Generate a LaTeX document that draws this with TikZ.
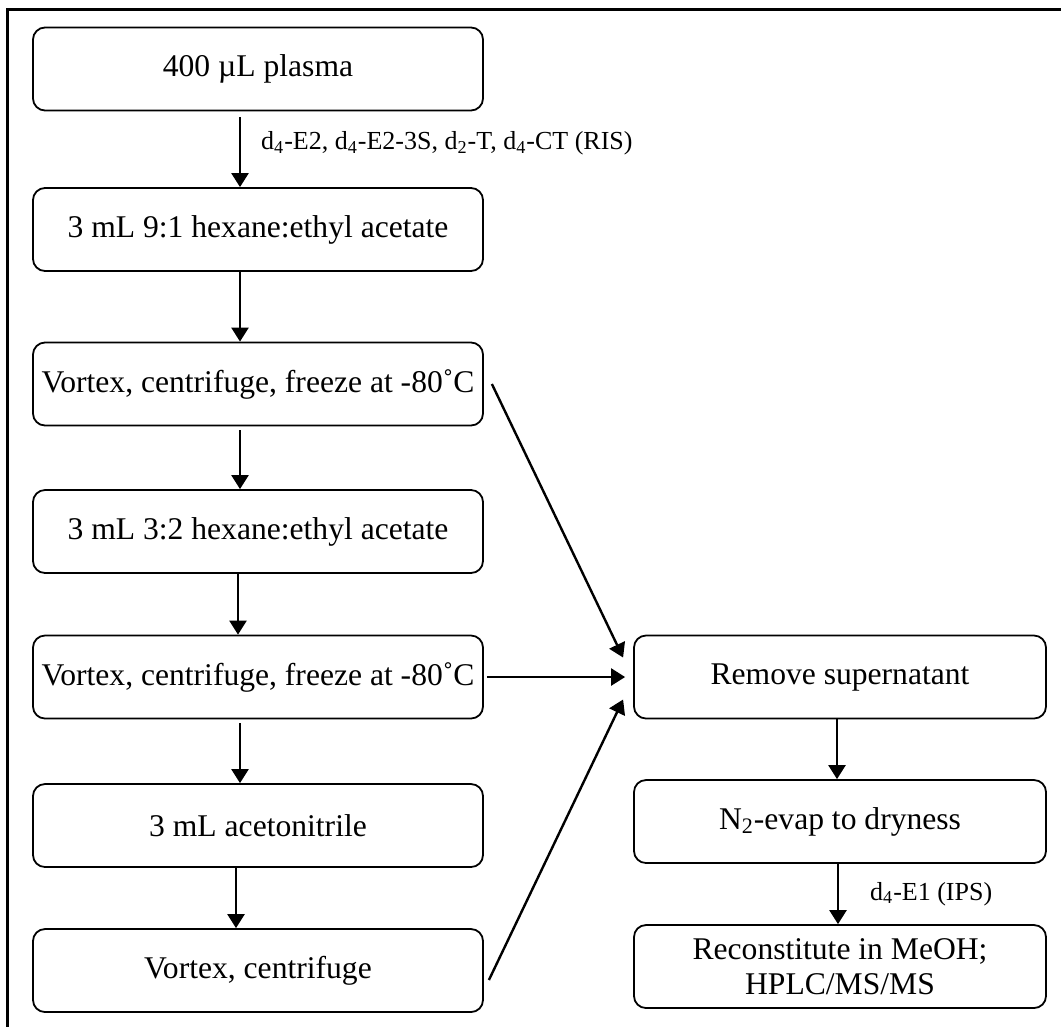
\documentclass[tikz,border=0pt]{standalone}
\usepackage{fontspec}
\setmainfont{Liberation Serif}
\usetikzlibrary{arrows.meta}

\begin{document}
\begin{tikzpicture}
    \tikzstyle{stepbox} = [rectangle, rounded corners=6pt, minimum width=225pt, minimum height=41.5pt, inner sep=1pt, text centered, draw=black, line width=0.9pt, font=\fontsize{15.8}{17.5}\selectfont]
\tikzstyle{sidebox} = [stepbox, minimum width=206pt, align=center]
\tikzstyle{note} = [inner sep=0pt, font=\fontsize{13}{15}\selectfont]
\tikzstyle{arrow} = [line width=1.2pt,-{Triangle[length=7pt,width=8.5pt]}]
    \useasboundingbox (0,0) rectangle (530.5pt,-513.5pt);
    \draw[line width=1.5pt] (3.5pt,-5pt) rectangle (545pt,-525pt);
    \node (l1) [stepbox] at (129pt,-34.5pt) {400 µL plasma};

\node (l2) [stepbox, below of=l1, yshift=-51.8pt] {3 mL 9:1 hexane:ethyl acetate};
\node (l3) [stepbox, below of=l2, yshift=-48.8pt] {Vortex, centrifuge, freeze at -80˚C};
\node (l4) [stepbox, below of=l3, yshift=-45.3pt] {3 mL 3:2 hexane:ethyl acetate};
\node (l5) [stepbox, below of=l4, yshift=-44.3pt] {Vortex, centrifuge, freeze at -80˚C};
\node (l6) [stepbox, below of=l5, yshift=-45.8pt] {3 mL acetonitrile};
\node (l7) [stepbox, below of=l6, yshift=-44.05pt] {Vortex, centrifuge};
\node (r1) [sidebox, right of=l5, xshift=262.55pt] {Remove supernatant};
\node (r2) [sidebox, below of=r1, yshift=-43.8pt] {N\textsubscript{2}-evap to dryness};
\node (r3) [sidebox, below of=r2, yshift=-44.05pt] {Reconstitute in MeOH;\\HPLC/MS/MS};

\draw[arrow, shorten <=3pt] ([xshift=-9pt]l1.south) -- node[note, pos=0.42, right=10pt] (ris) {d\textsubscript{4}-E2, d\textsubscript{4}-E2-3S, d\textsubscript{2}-T, d\textsubscript{4}-CT (RIS)} ([xshift=-9pt]l2.north);
\draw[arrow] ([xshift=-9pt]l2.south) -- ([xshift=-9pt]l3.north);
\draw[arrow, shorten <=2pt] ([xshift=-9pt]l3.south) -- ([xshift=-9pt]l4.north);
\draw[arrow] ([xshift=-10pt]l4.south) -- ([xshift=-10pt]l5.north);
\draw[arrow, shorten <=2pt] ([xshift=-9pt]l5.south) -- ([xshift=-9pt]l6.north);
\draw[arrow] ([xshift=-11pt]l6.south) -- ([xshift=-11pt]l7.north);

  \draw [arrow] ([xshift=4pt]l3.east) -- ([xshift=-5pt,yshift=9.75pt]r1.west);
\draw [arrow] ([xshift=1.5pt]l5.east) -- ([xshift=-4pt]r1.west);
\draw [arrow] ([xshift=2.5pt,yshift=-4.75pt]l7.east) -- ([xshift=-5pt,yshift=-11.25pt]r1.west);
\draw [arrow] ([xshift=-1.5pt]r1.south) -- ([xshift=-1.5pt]r2.north);
\draw [arrow] ([xshift=-1pt]r2.south) -- node[note, right=15.5pt] (ips) {d\textsubscript{4}-E1 (IPS)} ([xshift=-1pt]r3.north);
  \end{tikzpicture}
\end{document}
